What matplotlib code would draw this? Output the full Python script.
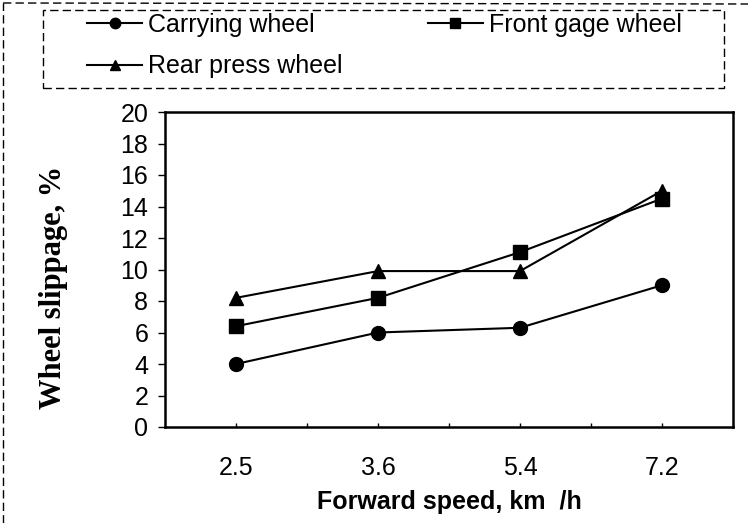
import matplotlib
matplotlib.use("Agg")
import matplotlib.pyplot as plt
from matplotlib.patches import Rectangle
from matplotlib.lines import Line2D

plt.rcParams["font.family"] = ["Liberation Sans", "DejaVu Sans"]

speeds = ["2.5", "3.6", "5.4", "7.2"]  # forward speed, km/h
carrying = [4.0, 6.0, 6.3, 9.0]  # carrying wheel slippage, %
front_gage = [6.4, 8.2, 11.1, 14.5]  # front gage wheel slippage, %
rear_press = [8.2, 9.9, 9.9, 15.0]  # rear press wheel slippage, %

W, H = 748, 523
fig = plt.figure(figsize=(W / 100, H / 100), dpi=100)
ax = fig.add_axes([165 / W, 1 - 427 / H, 568 / W, 315 / H])

x = list(range(len(speeds)))
l1, = ax.plot(x, carrying, "k-", marker="o", ms=10, lw=1.5, label="Carrying wheel")
l2, = ax.plot(x, front_gage, "k-", marker="s", ms=9.5, lw=1.5, label="Front gage wheel")
l3, = ax.plot(x, rear_press, "k-", marker="^", ms=10, lw=1.5, label="Rear press wheel")

ax.set_xlim(-0.5, len(speeds) - 0.5)
ax.set_ylim(0, 20)
ax.set_yticks(range(0, 21, 2))
ax.set_xticks(x)
ax.set_xticklabels(speeds)
ax.set_xticks([i + 0.5 for i in x[:-1]], minor=True)

for s in ax.spines.values():
    s.set_linewidth(1.8)
ax.tick_params(axis="y", direction="out", length=5, width=1, pad=7, labelsize=18)
ax.tick_params(axis="x", which="both", direction="in", length=3, width=1, pad=21, labelsize=18)

ax.set_xlabel("Forward speed, km  /h", fontsize=18, fontweight="bold", labelpad=7)
ax.set_ylabel("Wheel slippage, %", fontsize=22, fontweight="bold",
              family=["Liberation Serif"], va="center")
ax.yaxis.set_label_coords((53 - 165) / 568, (427 - 287) / 315)

# legend with a dashed box drawn by hand
leg = fig.legend([l1, l3, l2], ["Carrying wheel", "Rear press wheel", "Front gage wheel"],
                 ncol=2, loc="upper left", bbox_to_anchor=(87 / W, 1 - 13 / H),
                 frameon=False, fontsize=18, borderpad=0, borderaxespad=0,
                 handlelength=2.2, handletextpad=0.25, columnspacing=3.4,
                 labelspacing=0.7, markerscale=0.75)
fig.add_artist(Rectangle((43 / W, 1 - 88 / H), (724 - 43) / W, 78 / H,
                         transform=fig.transFigure, fill=False, ec="black",
                         lw=1, ls=(0, (6, 3))))

# outer dashed frame (left and top)
fig.add_artist(Line2D([3 / W, 3 / W], [0, 1 - 3 / H], transform=fig.transFigure,
                      color="black", lw=1, ls=(0, (6, 3))))
fig.add_artist(Line2D([3 / W, 1], [1 - 3 / H, 1 - 4 / H], transform=fig.transFigure,
                      color="black", lw=1, ls=(0, (6, 3))))

fig.savefig("out.png", dpi=100)
